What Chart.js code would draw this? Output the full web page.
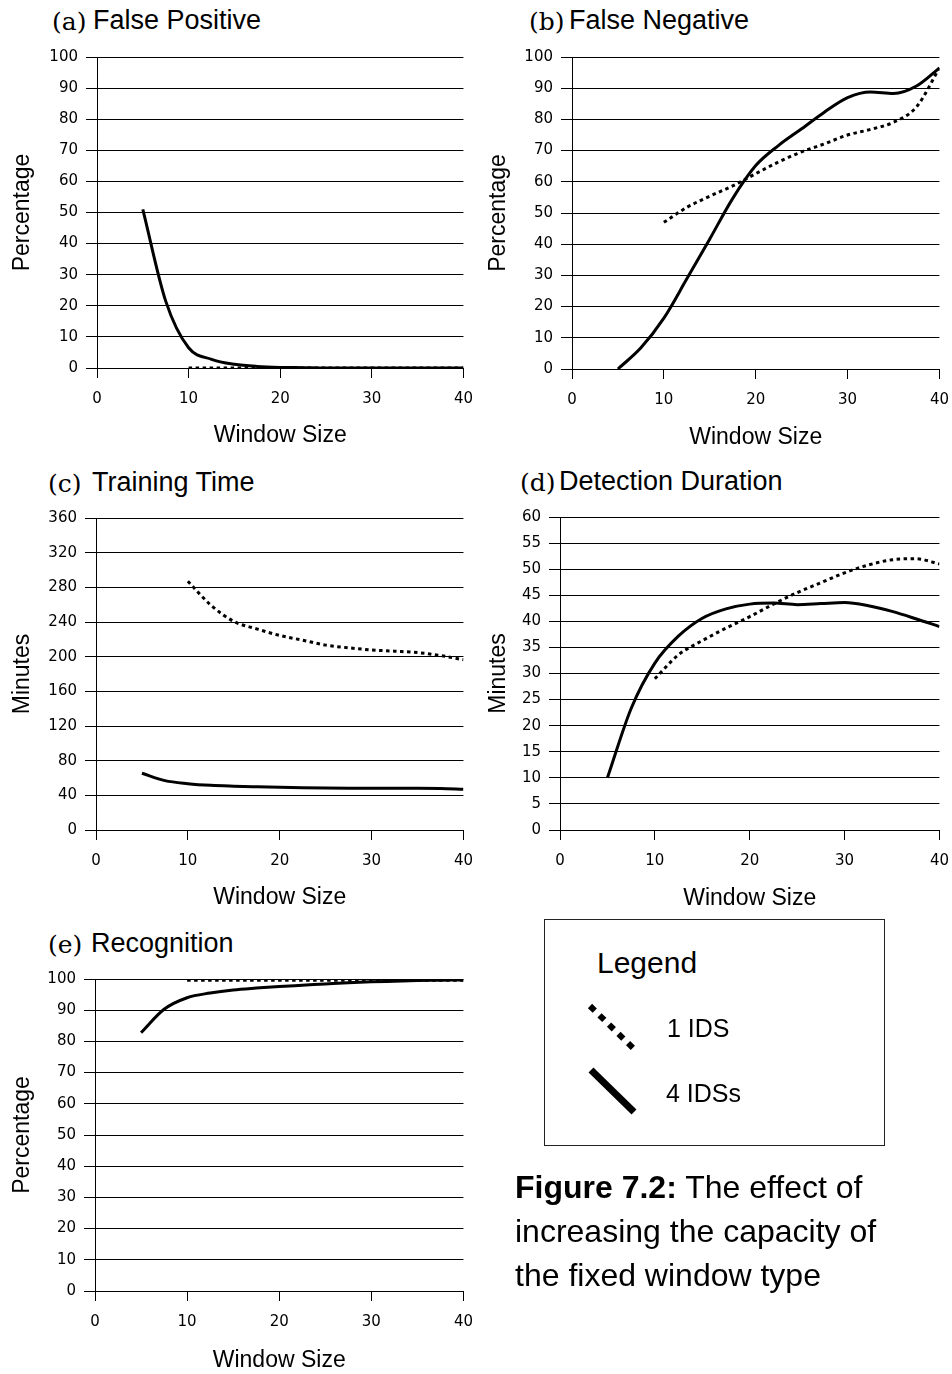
<!DOCTYPE html>
<html>
<head>
<meta charset="utf-8">
<script src="https://cdn.jsdelivr.net/npm/chart.js@4.4.1/dist/chart.umd.min.js"></script>
<style>
  body { margin: 0; background: #fff; width: 952px; height: 1374px; position: relative; overflow: hidden;
         font-family: "Liberation Sans", Arial, sans-serif; color: #000; }
  canvas { position: absolute; }
  .tag, .name, .lg { position: absolute; white-space: nowrap; line-height: 1; }
  .tag { font-family: "DejaVu Serif", serif; font-size: 25px; }
  .name { font-size: 27px; }
  #legendBox { position: absolute; left: 544px; top: 919px; width: 339px; height: 225px; border: 1px solid #222; }
  #caption { position: absolute; left: 515px; top: 1165px; font-size: 32px; line-height: 44px; }
</style>
</head>
<body>

<span class="tag" style="left:52px;top:9px">(a)</span><span class="name" style="left:93px;top:7px">False Positive</span>
<span class="tag" style="left:529px;top:9px">(b)</span><span class="name" style="left:569px;top:7px">False Negative</span>
<span class="tag" style="left:48px;top:471px">(c)</span><span class="name" style="left:92px;top:469px">Training Time</span>
<span class="tag" style="left:520px;top:470px">(d)</span><span class="name" style="left:559px;top:468px">Detection Duration</span>
<span class="tag" style="left:48px;top:932px">(e)</span><span class="name" style="left:91px;top:930px">Recognition</span>

<canvas id="chartA" width="485" height="409" style="left:0;top:40px"></canvas>
<canvas id="chartB" width="485" height="411" style="left:476px;top:40px"></canvas>
<canvas id="chartC" width="485" height="411" style="left:0;top:500px"></canvas>
<canvas id="chartD" width="485" height="412" style="left:476px;top:500px"></canvas>
<canvas id="chartE" width="485" height="414" style="left:0;top:960px"></canvas>

<div id="legendBox"></div>
<span class="lg" style="left:597px;top:948px;font-size:30px">Legend</span>
<svg style="position:absolute;left:0;top:0" width="952" height="1374">
  <line x1="590" y1="1006" x2="633" y2="1048" stroke="#000" stroke-width="6" stroke-dasharray="6.7 6.6"/>
  <line x1="591" y1="1070" x2="634" y2="1112" stroke="#000" stroke-width="7"/>
</svg>
<span class="lg" style="left:667px;top:1016px;font-size:25px">1 IDS</span>
<span class="lg" style="left:666px;top:1081px;font-size:25px">4 IDSs</span>

<div id="caption"><b>Figure 7.2:</b> The effect of<br>increasing the capacity of<br>the fixed window type</div>

<script>
const windowSizes4 = [5, 7.5, 10, 12.5, 15, 17.5, 20, 22.5, 25, 27.5, 30, 32.5, 35, 37.5, 40];
const windowSizes1 = [10, 12.5, 15, 17.5, 20, 22.5, 25, 27.5, 30, 32.5, 35, 37.5, 40];

const falsePositive1 = [0, 0, 0, 0, 0, 0, 0, 0, 0, 0, 0, 0, 0];
const falsePositive4 = [51, 21.5, 6.5, 2.8, 1.2, 0.5, 0.2, 0.1, 0, 0, 0, 0, 0, 0, 0];

const falseNegative1 = [47, 51.8, 55.4, 58.7, 62.6, 66.4, 69.6, 72.2, 75, 76.8, 79.1, 84, 96.5];
const falseNegative4 = [0, 6.8, 16.3, 28.9, 41.7, 54.7, 65.2, 71.7, 77, 82.4, 87, 88.8, 88.3, 90.7, 96.5];

const trainingTime1 = [287, 259.5, 240.7, 232, 224.5, 219, 213.3, 210.2, 207.8, 206.3, 204.7, 201.3, 196.4];
const trainingTime4 = [65.5, 57, 53.5, 51.5, 50.5, 49.8, 49.2, 48.8, 48.5, 48.3, 48.2, 48.2, 48.3, 48, 47];

const detection1 = [29, 33.6, 36.3, 38.7, 40.9, 43.3, 45.5, 47.4, 49.3, 50.8, 51.8, 52, 51];
const detection4 = [10, 23.3, 32, 37.2, 40.6, 42.4, 43.3, 43.5, 43.2, 43.4, 43.6, 43, 41.9, 40.5, 39];

const recognition1 = [99.6, 99.6, 99.6, 99.6, 99.6, 99.6, 99.6, 99.6, 99.6, 99.6, 99.6, 99.6, 99.6];
const recognition4 = [82.8, 90.3, 94, 95.5, 96.5, 97.1, 97.6, 98, 98.4, 98.8, 99.1, 99.3, 99.5, 99.6, 99.7];

const tickFont = { family: 'DejaVu Sans', size: 15 };
const axisTitleFont = { family: 'Liberation Sans', size: 23 };

function points(xs, ys) {
    return xs.map((x, i) => ({ x: x, y: ys[i] }));
}

function makeChart(id, yTitle, yMax, yStep, ones, fours, box) {
    new Chart(document.getElementById(id), {
        type: 'line',
        data: {
            datasets: [{
                label: '1 IDS',
                data: points(windowSizes1, ones),
                borderColor: '#000',
                borderWidth: 3,
                borderDash: [3.5, 3.5],
                pointRadius: 0,
                cubicInterpolationMode: 'monotone',
                fill: false
            }, {
                label: '4 IDSs',
                data: points(windowSizes4, fours),
                borderColor: '#000',
                borderWidth: 3,
                pointRadius: 0,
                cubicInterpolationMode: 'monotone',
                fill: false
            }]
        },
        options: {
            responsive: false,
            animation: false,
            devicePixelRatio: 1,
            layout: { padding: { top: box.top, right: 13, left: 0, bottom: 0 } },
            plugins: { legend: { display: false }, tooltip: { enabled: false } },
            scales: {
                x: {
                    type: 'linear',
                    min: 0,
                    max: 40,
                    ticks: { stepSize: 10, padding: 12, font: tickFont, color: '#000' },
                    grid: { drawOnChartArea: false, tickLength: 10, color: '#000' },
                    border: { color: '#000' },
                    title: { display: true, text: 'Window Size', font: axisTitleFont, color: '#000', padding: 0 },
                    afterFit: s => { s.height = box.xh; }
                },
                y: {
                    min: 0,
                    max: yMax,
                    ticks: { stepSize: yStep, padding: 8, font: tickFont, color: '#000' },
                    grid: { tickLength: 11, color: '#000' },
                    border: { color: '#000' },
                    title: { display: true, text: yTitle, font: axisTitleFont, color: '#000', padding: { top: 9, bottom: 0 } },
                    afterFit: s => { s.width = box.yw; }
                }
            }
        }
    });
}

makeChart('chartA', 'Percentage', 100, 10, falsePositive1, falsePositive4, { top: 17, yw: 97, xh: 81 });
makeChart('chartB', 'Percentage', 100, 10, falseNegative1, falseNegative4, { top: 17, yw: 96, xh: 82 });
makeChart('chartC', 'Minutes', 360, 40, trainingTime1, trainingTime4, { top: 18, yw: 96, xh: 81 });
makeChart('chartD', 'Minutes', 60, 5, detection1, detection4, { top: 17, yw: 84, xh: 82 });
makeChart('chartE', 'Percentage', 100, 10, recognition1, recognition4, { top: 19, yw: 95, xh: 83 });
</script>
</body>
</html>
